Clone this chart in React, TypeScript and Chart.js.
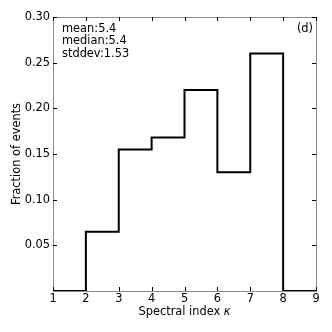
import React, { useEffect, useRef } from "react";
import { Chart, registerables } from "chart.js";

Chart.register(...registerables);

const binEdges = [1, 2, 3, 4, 5, 6, 7, 8, 9];
const fractions = [0, 0.065, 0.155, 0.168, 0.22, 0.13, 0.26, 0];
const yTicks = [0.05, 0.1, 0.15, 0.2, 0.25, 0.3];
const statsLines = ["mean:5.4", "median:5.4", "stddev:1.53"];
const panelLabel = "(d)";
const xTitleText = "Spectral index ";
const xTitleSymbol = "κ";
const yTitle = "Fraction of events";

const FONT = "'DejaVu Sans', sans-serif";
const FS = 11.4;
const FRAME = "#8c8c8c";

const framePlugin = {
  id: "frame",
  afterDatasetsDraw(chart: any) {
    const { ctx, chartArea } = chart;
    const { left, right, top, bottom } = chartArea;
    const xs = chart.scales.x;
    const ys = chart.scales.y;
    ctx.save();
    ctx.strokeStyle = FRAME;
    ctx.lineWidth = 1;
    ctx.strokeRect(Math.round(left) + 0.5, Math.round(top) + 0.5, Math.round(right - left), Math.round(bottom - top));
    ctx.strokeStyle = "#000";
    const tl = 4;
    ctx.beginPath();
    binEdges.forEach((v) => {
      const px = Math.round(xs.getPixelForValue(v)) + 0.5;
      ctx.moveTo(px, top);
      ctx.lineTo(px, top + tl);
      ctx.moveTo(px, bottom);
      ctx.lineTo(px, bottom - tl);
    });
    yTicks.forEach((v) => {
      const py = Math.round(ys.getPixelForValue(v)) + 0.5;
      ctx.moveTo(left, py);
      ctx.lineTo(left + tl, py);
      ctx.moveTo(right, py);
      ctx.lineTo(right - tl, py);
    });
    ctx.stroke();
    ctx.fillStyle = "#000";
    ctx.font = `${FS}px ${FONT}`;
    ctx.textBaseline = "top";
    ctx.textAlign = "left";
    statsLines.forEach((s, i) => {
      ctx.fillText(s, left + 9, top + 6 + i * 12.6);
    });
    ctx.textAlign = "right";
    ctx.fillText(panelLabel, right - 3, top + 6);

    // x-axis title with italic symbol
    const normalFont = `${FS}px ${FONT}`;
    const italicFont = `italic ${FS}px ${FONT}`;
    ctx.font = normalFont;
    const w1 = ctx.measureText(xTitleText).width;
    ctx.font = italicFont;
    const w2 = ctx.measureText(xTitleSymbol).width;
    const cx = (left + right) / 2;
    const startX = cx - (w1 + w2) / 2;
    ctx.textAlign = "left";
    ctx.textBaseline = "middle";
    ctx.font = normalFont;
    ctx.fillText(xTitleText, startX, 312);
    ctx.font = italicFont;
    ctx.fillText(xTitleSymbol, startX + w1, 312);
    ctx.restore();
  },
};

export default function App() {
  const ref = useRef<HTMLCanvasElement>(null);
  useEffect(() => {
    const data = binEdges.map((x, i) => ({ x, y: i < fractions.length ? fractions[i] : fractions[fractions.length - 1] }));
    const chart = new Chart(ref.current!, {
      type: "line",
      data: {
        datasets: [
          {
            data,
            stepped: "before",
            borderColor: "#000",
            borderWidth: 2,
            pointRadius: 0,
            fill: false,
          },
        ],
      },
      options: {
        animation: false,
        responsive: false,
        layout: { padding: { top: 17, right: 16, left: 10, bottom: 13 } },
        plugins: { legend: { display: false }, tooltip: { enabled: false } },
        scales: {
          x: {
            type: "linear",
            min: 1,
            max: 9,
            afterFit: (s: any) => {
              s.height = 28;
            },
            ticks: {
              stepSize: 1,
              color: "#000",
              font: { family: FONT, size: FS },
              padding: 1,
              maxRotation: 0,
            },
            grid: { display: false, drawTicks: false },
            border: { display: false },
            title: { display: false },
          },
          y: {
            min: 0,
            max: 0.3,
            afterFit: (s: any) => {
              s.width = 43;
            },
            ticks: {
              stepSize: 0.05,
              color: "#000",
              font: { family: FONT, size: FS },
              padding: 3,
              callback: (v: any) => (Math.abs(v) < 1e-9 ? "" : Number(v).toFixed(2)),
            },
            grid: { display: false, drawTicks: false },
            border: { display: false },
            title: {
              display: true,
              text: yTitle,
              color: "#000",
              font: { family: FONT, size: FS },
              padding: { top: 0, bottom: 0 },
            },
          },
        },
      },
      plugins: [framePlugin],
    });
    return () => chart.destroy();
  }, []);
  return (
    <div style={{ position: "fixed", left: 0, top: 0, width: 332, height: 332, background: "#fff" }}>
      <canvas ref={ref} width={332} height={332} style={{ width: 332, height: 332 }} />
    </div>
  );
}
